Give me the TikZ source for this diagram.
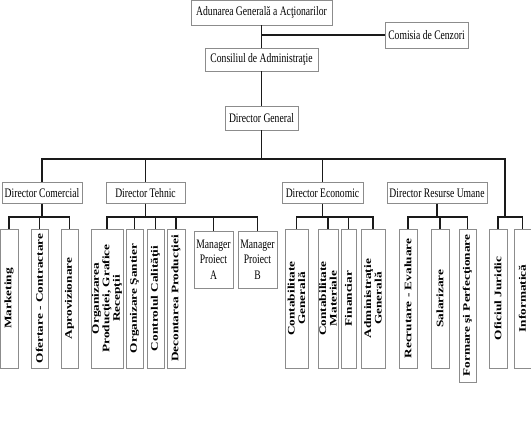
\documentclass[tikz,border=0pt]{standalone}
\usepackage{fontspec}
\setmainfont{Liberation Serif}
\newfontfamily\narrowfont[FakeStretch=0.74]{Liberation Serif}
\newfontfamily\widefont[FakeStretch=1.33]{Liberation Serif}
\usetikzlibrary{positioning,calc}
\definecolor{edge}{HTML}{8C8C8C}
\definecolor{wire}{HTML}{1A1A1A}

\begin{document}
\begin{tikzpicture}[
  x=1pt, y=-1pt,
  unit/.style={draw=edge, line width=0.8pt, fill=white, inner sep=0pt, align=center,
    font=\fontsize{13}{15.5}\narrowfont},
  leaf/.style={draw=edge, line width=0.8pt, fill=white, inner sep=0pt, align=center,
    rotate=90, minimum width=139, font=\fontsize{10}{10.5}\widefont\bfseries},
  conn/.style={draw=wire, line width=1.1pt},
]
\useasboundingbox (0,0) rectangle (531,421);

% top management
\node[unit, minimum width=141, minimum height=25] (adun) at (261.5,12.5) {Adunarea General\u{a} a Ac\c{t}ionarilor};
\node[unit, minimum width=83, minimum height=26] (cenz) at (426.5,35) {Comisia de Cenzori};
\node[unit, minimum width=113, minimum height=23] (cons) at (261.5,59.5) {Consiliul de Administra\c{t}ie};
\node[unit, minimum width=73, minimum height=24] (dg) at (261.5,118) {Director General};

% directors
\node[unit, minimum width=80, minimum height=21] (dc) at (42,193) {Director Comercial};
\node[unit, minimum width=79, minimum height=21] (dt) at (145.5,193) {Director Tehnic};
\node[unit, minimum width=81, minimum height=21] (de) at (322.5,193) {Director Economic};
\node[unit, minimum width=100, minimum height=21] (dru) at (437,193) {Director Resurse Umane};

% departments
\node[leaf, minimum height=18] (mkt) at (9,298.5) {Marketing};
\node[leaf, minimum height=17] (ofc) at (39.5,298.5) {Ofertare - Contractare};
\node[leaf, minimum height=17] (apr) at (69.5,298.5) {Aprovizionare};
\node[leaf, minimum height=32] (org) at (107,298.5) {Organizarea\\Produc\c{t}iei, Grafice\\Recep\c{t}ii};
\node[leaf, minimum height=17] (sant) at (134.5,298.5) {Organizare \c{S}antier};
\node[leaf, minimum height=17] (cal) at (155.5,298.5) {Controlul Calit\u{a}\c{t}ii};
\node[leaf, minimum height=18] (dec) at (176,298.5) {Decontarea Produc\c{t}iei};
\node[unit, minimum width=39, minimum height=57] (mpa) at (213.5,259.5) {Manager\\Proiect\\A};
\node[unit, minimum width=39, minimum height=57] (mpb) at (257.5,259.5) {Manager\\Proiect\\B};
\node[leaf, minimum height=23] (cg) at (296.5,298.5) {Contabilitate\\General\u{a}};
\node[leaf, minimum height=20] (cm) at (328,298.5) {Contabilitate\\Materiale};
\node[leaf, minimum height=15] (fin) at (348.5,298.5) {Financiar};
\node[leaf, minimum height=24] (adm) at (373,298.5) {Administra\c{t}ie\\General\u{a}};
\node[leaf, minimum height=18] (rec) at (408,298.5) {Recrutare - Evaluare};
\node[leaf, minimum height=18] (sal) at (440,298.5) {Salarizare};
\node[leaf, minimum height=17, minimum width=153] (form) at (467.5,305.5) {Formare \c{s}i Perfec\c{t}ionare};
\node[leaf, minimum height=18] (ofj) at (498,298.5) {Oficiul Juridic};
\node[leaf, minimum height=17] (inf) at (522.5,298.5) {Informatic\u{a}};

\coordinate (bus) at (0,159);
\coordinate (rdrop) at (505,217);

% connectors
\draw[conn] (adun) -- (cons);
\draw[conn] (adun.south |- cenz.west) -- (cenz.west);
\draw[conn] (cons) -- (dg);
\foreach \d in {dc,dt,de}
  \draw[conn] (dg.south) -- (dg.south |- bus) -| (\d.north);
\draw[conn] (dg.south |- bus) -| (rdrop);

\foreach \n in {mkt,ofc,apr}
  \draw[conn] (dc.south) -- (dc.south |- rdrop) -| (\n.east);
\foreach \n in {org,sant,cal,dec}
  \draw[conn] (dt.south) -- (dt.south |- rdrop) -| (\n.east);
\foreach \n in {mpa,mpb}
  \draw[conn] (dt.south) -- (dt.south |- rdrop) -| (\n.north);
\foreach \n in {cg,cm,fin,adm}
  \draw[conn] (de.south) -- (de.south |- rdrop) -| (\n.east);
\foreach \n in {rec,sal,form}
  \draw[conn] (dru.south) -- (dru.south |- rdrop) -| (\n.east);
\foreach \n in {ofj,inf}
  \draw[conn] (rdrop) -| (\n.east);

\end{tikzpicture}
\end{document}
